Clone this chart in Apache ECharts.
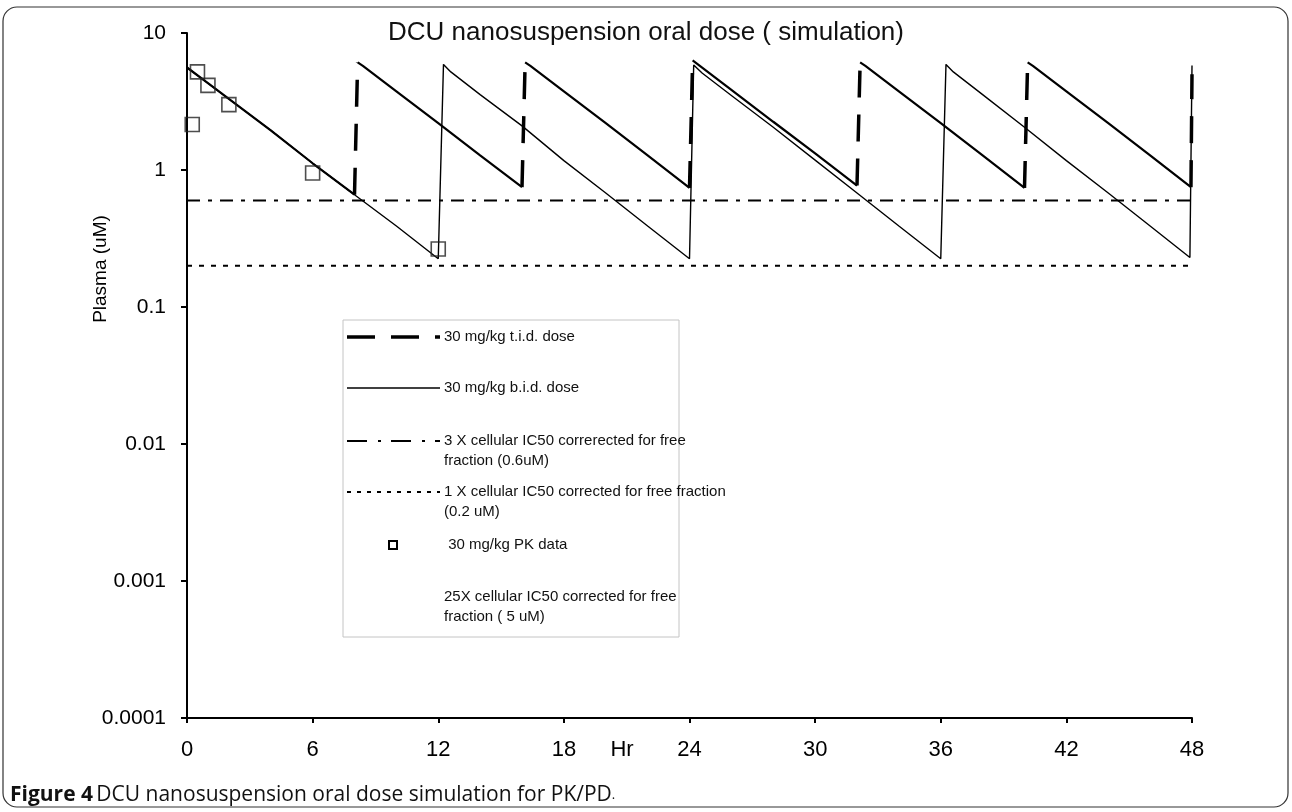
<!DOCTYPE html>
<html>
<head>
<meta charset="utf-8">
<title>DCU nanosuspension oral dose simulation</title>
<script src="https://cdn.jsdelivr.net/npm/echarts@6/dist/echarts.min.js"></script>
<style>
  html, body { margin: 0; padding: 0; background: #fff; }
  #chart { width: 1292px; height: 812px; }
</style>
</head>
<body>
<div id="chart"></div>
<script>
// time axis (hours) and tick labels
const xTickLabels = ['0', '6', '12', '18', '24', '30', '36', '42', '48']
const yTickLabels = ['0.0001', '0.001', '0.01', '0.1', '1', '10']

// 30 mg/kg b.i.d. simulation
const bidHours = [0, 1, 2, 4, 6, 8, 10, 12, 12.25, 12.6, 14, 16, 18, 20, 22, 24,
  24.2, 24.6, 26, 28, 30, 32, 34, 36, 36.25, 36.6, 38, 40, 42, 44, 46, 47.9, 48]
const bidConc = [5.6, 4.3, 3.3, 1.95, 1.12, 0.66, 0.39, 0.225, 5.9, 5.2, 3.55, 2.1, 1.17, 0.68, 0.39, 0.225,
  5.85, 5.1, 3.5, 2.05, 1.18, 0.68, 0.39, 0.225, 5.9, 5.2, 3.55, 2.05, 1.17, 0.68, 0.39, 0.23, 5.8]

// 30 mg/kg t.i.d. simulation
const tidHours = [0, 1, 2, 4, 6, 8, 8.15, 8.4, 10, 12, 14, 16, 16.15, 16.4, 18, 20, 22, 24,
  24.15, 24.4, 26, 28, 30, 32, 32.15, 32.4, 34, 36, 38, 40, 40.15, 40.4, 42, 44, 46, 47.95, 48]
const tidConc = [5.6, 4.3, 3.3, 1.95, 1.12, 0.66, 6.1, 5.75, 3.75, 2.2, 1.28, 0.75, 6.1, 5.75, 3.75, 2.2, 1.28, 0.74,
  6.3, 5.9, 3.85, 2.25, 1.32, 0.77, 6.1, 5.75, 3.75, 2.2, 1.28, 0.74, 6.1, 5.75, 3.75, 2.2, 1.28, 0.75, 5.0]

// 30 mg/kg PK data
const pkHours = [0.25, 0.5, 1, 2, 6, 12]
const pkConc = [2.15, 5.2, 4.15, 3.0, 0.95, 0.265]

// IC50 thresholds corrected for free fraction
const ic50Hours = [0, 48]
const ic50x3 = 0.6
const ic50x1 = 0.2

// split t.i.d. curve: decay parts drawn solid, dose jumps drawn dashed
const tidFall = []
const tidRise = []
tidHours.forEach((h, i) => {
  if (i > 0 && tidConc[i] > tidConc[i - 1]) {
    tidRise.push([tidHours[i - 1], tidConc[i - 1]], [h, tidConc[i]], [h, null])
    tidFall.push([h, null])
  }
  tidFall.push([h, tidConc[i]])
})

const FONT = '"Liberation Sans", Arial, sans-serif'
const chart = echarts.init(document.getElementById('chart'))

// 图例（手工绘制，照原图排版）
const legendX = 347
const legendTextX = 444
const legendItems = [
  { y: 337, text: '30 mg/kg t.i.d. dose', line: { width: 3.5, dash: [28, 16] } },
  { y: 388, text: '30 mg/kg b.i.d. dose', line: { width: 1.5, dash: null } },
  { y: 441, text: '3 X cellular IC50 correrected for free\nfraction (0.6uM)', line: { width: 2, dash: [20, 11, 3, 10] } },
  { y: 492, text: '1 X cellular IC50 corrected for free fraction\n(0.2 uM)', line: { width: 2, dash: [4, 6] } },
  { y: 545, text: ' 30 mg/kg PK data', marker: true },
  { y: 597, text: '25X cellular IC50 corrected for free\nfraction ( 5 uM)' }
]

const legendGraphics = [{
  type: 'rect',
  shape: { x: 343, y: 320, width: 336, height: 317 },
  style: { fill: '#fff', stroke: '#c4c4c4', lineWidth: 1 },
  z: 100
}]
legendItems.forEach(item => {
  if (item.line) {
    legendGraphics.push({
      type: 'line',
      shape: { x1: legendX, y1: item.y, x2: 440, y2: item.y },
      style: { stroke: '#000', lineWidth: item.line.width, lineDash: item.line.dash },
      z: 101
    })
  }
  if (item.marker) {
    legendGraphics.push({
      type: 'rect',
      shape: { x: 389, y: item.y - 4, width: 8, height: 8 },
      style: { fill: '#fff', stroke: '#000', lineWidth: 2 },
      z: 101
    })
  }
  legendGraphics.push({
    type: 'text',
    x: legendTextX,
    y: item.y - 10,
    style: {
      text: item.text,
      font: '15px ' + FONT,
      fill: '#111',
      lineHeight: 20,
      verticalAlign: 'top'
    },
    z: 101
  })
})

const option = {
  animation: false,
  backgroundColor: '#fff',
  title: {
    text: 'DCU nanosuspension oral dose ( simulation)',
    left: 'center',
    top: 20,
    padding: 0,
    textStyle: { fontFamily: FONT, fontSize: 26, fontWeight: 'normal', color: '#111' }
  },
  grid: { left: 187, right: 100, top: 33, bottom: 94 },
  xAxis: {
    type: 'value',
    min: 0,
    max: 48,
    interval: 6,
    axisLine: { lineStyle: { color: '#000', width: 2 } },
    axisTick: { show: true, length: 5, lineStyle: { color: '#000', width: 2 } },
    axisLabel: {
      margin: 21,
      fontFamily: FONT,
      fontSize: 22,
      color: '#000',
      formatter: (v) => xTickLabels[Math.round(v / 6)]
    },
    splitLine: { show: false }
  },
  yAxis: {
    type: 'log',
    logBase: 10,
    min: 0.0001,
    max: 10,
    splitNumber: 5,
    axisLine: { show: true, lineStyle: { color: '#000', width: 2 } },
    axisTick: { show: true, length: 6, lineStyle: { color: '#000', width: 2 } },
    minorTick: { show: false },
    axisLabel: {
      margin: 21,
      fontFamily: FONT,
      fontSize: 21,
      color: '#000',
      formatter: (v) => yTickLabels[Math.round(Math.log10(v)) + 4]
    },
    splitLine: { show: false }
  },
  graphic: [
    // 外框
    {
      type: 'rect',
      shape: { x: 3, y: 7, width: 1285, height: 800, r: 14 },
      style: { fill: 'none', stroke: '#333', lineWidth: 1.2 },
      silent: true,
      z: -1
    },
    {
      type: 'text',
      x: 101,
      y: 269,
      rotation: Math.PI / 2,
      style: {
        text: 'Plasma (uM)',
        font: '19px ' + FONT,
        fill: '#000',
        align: 'center',
        verticalAlign: 'middle'
      }
    },
    {
      type: 'text',
      x: 622,
      y: 739,
      style: { text: 'Hr', font: '22px ' + FONT, fill: '#000', align: 'center', verticalAlign: 'top' }
    },
    {
      type: 'text',
      x: 10,
      y: 795,
      style: {
        rich: {
          b: { fontFamily: '"Open Sans", sans-serif', fontSize: 21, fontWeight: 'bold', fill: '#111', color: '#111' },
          n: { fontFamily: '"Open Sans", sans-serif', fontSize: 21, fill: '#111', color: '#111' },
          s: { fontFamily: '"Open Sans", sans-serif', fontSize: 13, fill: '#111', color: '#111' }
        },
        text: '{b|Figure 4} {n|DCU nanosuspension oral dose simulation for PK/PD}{s|.}',
        verticalAlign: 'middle'
      }
    },
    ...legendGraphics
  ],
  series: [
    {
      name: '3 X cellular IC50',
      type: 'line',
      showSymbol: false,
      data: ic50Hours.map(h => [h, ic50x3]),
      lineStyle: { color: '#000', width: 2, type: [13, 8, 4, 8] },
      z: 2
    },
    {
      name: '1 X cellular IC50',
      type: 'line',
      showSymbol: false,
      data: ic50Hours.map(h => [h, ic50x1]),
      lineStyle: { color: '#000', width: 2, type: [5, 7] },
      z: 2
    },
    {
      name: '30 mg/kg t.i.d. dose',
      type: 'line',
      showSymbol: false,
      connectNulls: false,
      data: tidFall,
      lineStyle: { color: '#000', width: 2.2 },
      z: 3
    },
    {
      name: '30 mg/kg t.i.d. dose (dose)',
      type: 'line',
      showSymbol: false,
      connectNulls: false,
      data: tidRise,
      lineStyle: { color: '#000', width: 3.5, type: [27, 17] },
      z: 3
    },
    {
      name: '30 mg/kg b.i.d. dose',
      type: 'line',
      showSymbol: false,
      data: bidHours.map((h, i) => [h, bidConc[i]]),
      lineStyle: { color: '#000', width: 1.4 },
      z: 4
    },
    {
      name: '30 mg/kg PK data',
      type: 'scatter',
      symbol: 'rect',
      symbolSize: 14,
      data: pkHours.map((h, i) => [h, pkConc[i]]),
      itemStyle: { color: 'rgba(255,255,255,0)', borderColor: '#222', borderWidth: 1.6 },
      z: 5
    }
  ]
}

chart.setOption(option)
window.addEventListener('resize', () => chart.resize())
</script>
</body>
</html>
